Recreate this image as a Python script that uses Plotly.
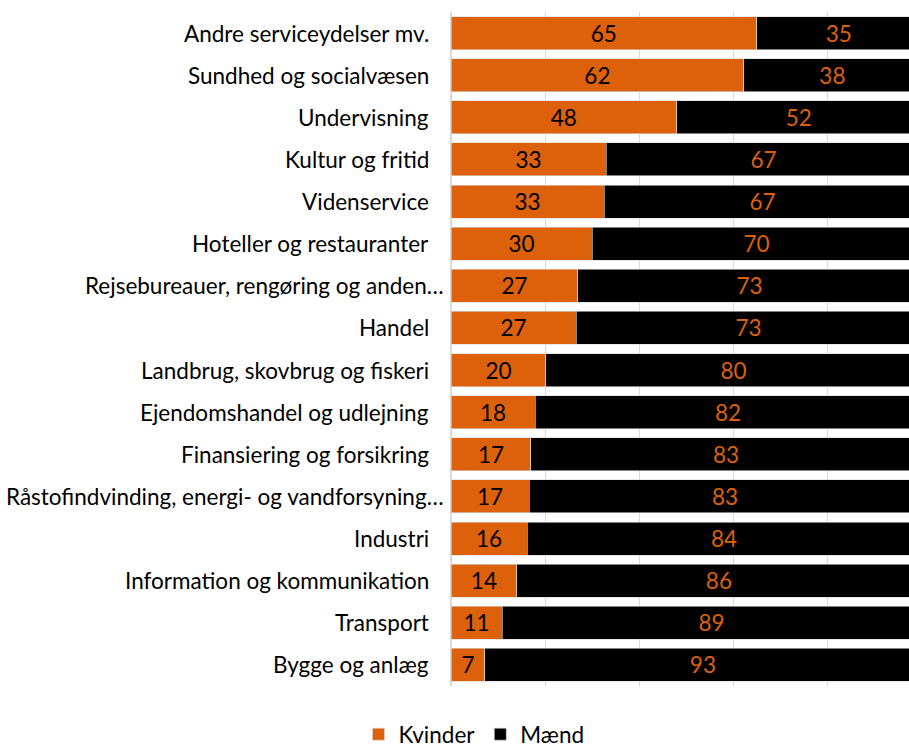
import plotly.graph_objects as go

categories = [
    "Andre serviceydelser mv.",
    "Sundhed og socialvæsen",
    "Undervisning",
    "Kultur og fritid",
    "Videnservice",
    "Hoteller og restauranter",
    "Rejsebureauer, rengøring og anden…",
    "Handel",
    "Landbrug, skovbrug og fiskeri",
    "Ejendomshandel og udlejning",
    "Finansiering og forsikring",
    "Råstofindvinding, energi- og vandforsyning…",
    "Industri",
    "Information og kommunikation",
    "Transport",
    "Bygge og anlæg",
]
kvinder = [65.0, 62.3, 48.0, 33.0, 32.6, 30.0, 27.0, 26.6, 20.2, 17.9, 17.0, 16.6, 16.2, 14.0, 10.9, 7.2]
maend = [35.0, 37.7, 52.0, 67.0, 67.4, 70.0, 73.0, 73.4, 79.8, 82.1, 83.0, 83.4, 83.8, 86.0, 89.1, 92.8]

ORANGE = "#DD610A"
FONT = "Lato"
FS = 22.5
W, H = 909, 745

fig = go.Figure()
fig.add_trace(go.Bar(
    y=categories, x=kvinder, name="Kvinder", orientation="h",
    marker=dict(color=ORANGE, line=dict(color="#d9d9d9", width=0.6)),
    texttemplate="%{x:.0f}", textposition="inside", insidetextanchor="middle",
    textangle=0, textfont=dict(color="black", size=FS, family=FONT),
))
fig.add_trace(go.Bar(
    y=categories, x=maend, name="Mænd", orientation="h",
    marker=dict(color="black", line=dict(color="#d9d9d9", width=0.6)),
    texttemplate="%{x:.0f}", textposition="inside", insidetextanchor="middle",
    textangle=0, textfont=dict(color=ORANGE, size=FS, family=FONT),
))

# category labels (truncated labels sit closer to the axis, as in the original)
for cat in categories:
    fig.add_annotation(
        x=0, y=cat, xref="x", yref="y", text=cat, showarrow=False,
        xanchor="right", yanchor="middle", xshift=-5 if cat.endswith("…") else -20,
        font=dict(size=FS, family=FONT, color="black"),
    )

fig.update_layout(
    barmode="stack",
    bargap=0.215,
    width=W, height=H,
    margin=dict(l=451, r=0, t=12, b=59, autoexpand=False),
    plot_bgcolor="white", paper_bgcolor="white",
    font=dict(family=FONT, size=FS, color="black"),
    showlegend=True,
    legend=dict(
        orientation="h", xref="container", yref="paper",
        x=474 / W, xanchor="center", y=-27 / 674, yanchor="top",
        font=dict(size=FS, family=FONT), traceorder="normal",
        itemwidth=30,
    ),
    uniformtext=dict(mode=False),
)
fig.update_xaxes(
    range=[0, (909 - 451) / 4.7], showgrid=True, gridcolor="#d9d9d9", gridwidth=1,
    dtick=20, tick0=0, showticklabels=False, zeroline=True, zerolinecolor="#d9d9d9",
    ticks="", fixedrange=True, automargin=False,
)
fig.update_yaxes(
    categoryorder="array", categoryarray=categories, autorange="reversed",
    ticks="", showticklabels=False, showgrid=False, automargin=False,
)

fig.write_html(
    "out.html",
    config={"displayModeBar": False},
    post_script="document.body.style.margin='0';document.body.style.overflow='hidden';",
)
